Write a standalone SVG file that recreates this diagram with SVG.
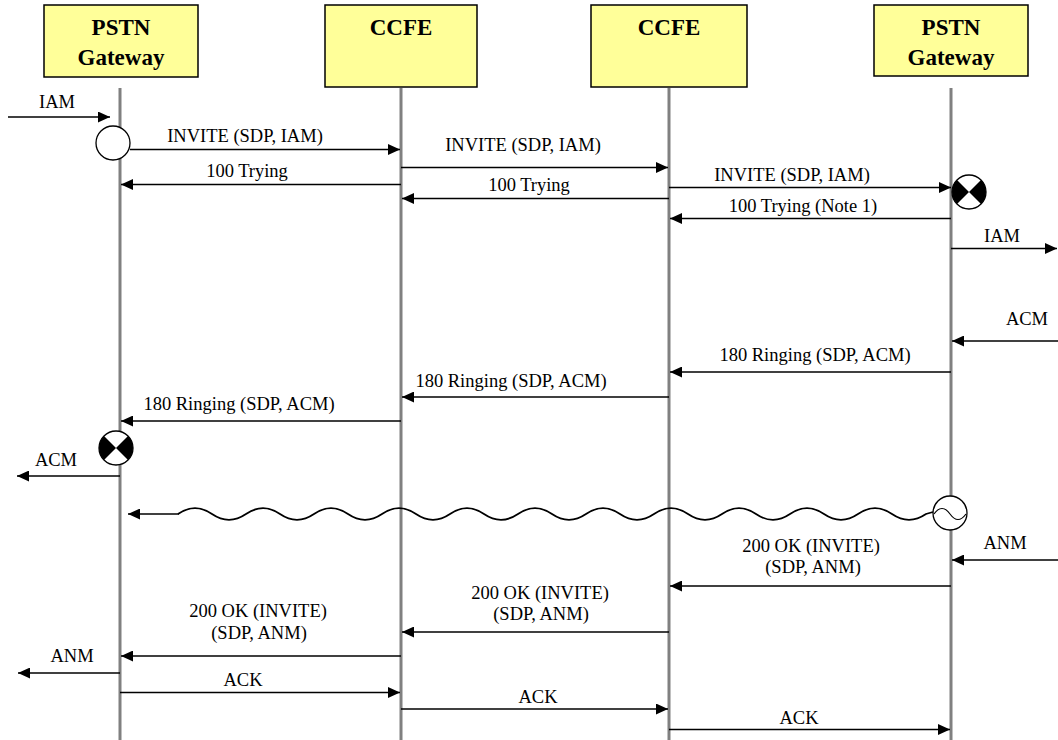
<svg xmlns="http://www.w3.org/2000/svg" width="1058" height="740" viewBox="0 0 1058 740" font-family="Liberation Serif, Times New Roman, serif">
<style>
.box{fill:#FFFF99;stroke:#000;stroke-width:1.5}
.title{font-weight:bold;font-size:23px;text-anchor:middle;fill:#000}
.life{stroke:#808080;stroke-width:3;fill:none}
.msg{stroke:#000;stroke-width:1.4;fill:none;marker-end:url(#ah)}
.lbl{font-size:18.5px;text-anchor:middle;fill:#000}
.circ{fill:#fff;stroke:#000;stroke-width:1.3}
.wedge{fill:#000}
.wave{stroke:#000;stroke-width:1.8;fill:none}
</style>
<defs>
<marker id="ah" viewBox="0 0 12 11" refX="12" refY="5.5" markerWidth="12" markerHeight="11" markerUnits="userSpaceOnUse" orient="auto">
<path d="M0,0 L12,5.5 L0,11 Z" fill="#000"/>
</marker>
</defs>
<rect width="1058" height="740" fill="#fff"/>
<g id="gw1">
<rect class="box" x="44" y="5" width="154" height="72"/>
<text class="title" x="121" y="35">PSTN</text>
<text class="title" x="121" y="65">Gateway</text>
<line class="life" x1="120" y1="88" x2="120" y2="740"/>
</g>
<g id="ccfe1">
<rect class="box" x="325" y="5" width="152" height="82"/>
<text class="title" x="401" y="35">CCFE</text>
<line class="life" x1="401" y1="88" x2="401" y2="740"/>
</g>
<g id="ccfe2">
<rect class="box" x="591" y="5" width="156" height="82"/>
<text class="title" x="669" y="35">CCFE</text>
<line class="life" x1="669" y1="88" x2="669" y2="740"/>
</g>
<g id="gw2">
<rect class="box" x="874" y="5" width="154" height="71"/>
<text class="title" x="951" y="35">PSTN</text>
<text class="title" x="951" y="65">Gateway</text>
<line class="life" x1="951" y1="88" x2="951" y2="740"/>
</g>
<g id="connectors">
<line class="msg" x1="8" y1="117" x2="110" y2="117"/>
<text class="lbl" x="57" y="108">IAM</text>
<line class="msg" x1="130" y1="149.5" x2="400" y2="149.5"/>
<text class="lbl" x="245" y="142">INVITE (SDP, IAM)</text>
<line class="msg" x1="401" y1="184.5" x2="121" y2="184.5"/>
<text class="lbl" x="247" y="177">100 Trying</text>
<line class="msg" x1="401" y1="167.5" x2="668" y2="167.5"/>
<text class="lbl" x="523" y="151">INVITE (SDP, IAM)</text>
<line class="msg" x1="669" y1="198.5" x2="402" y2="198.5"/>
<text class="lbl" x="529" y="191">100 Trying</text>
<line class="msg" x1="669" y1="187.5" x2="951" y2="187.5"/>
<text class="lbl" x="792" y="181">INVITE (SDP, IAM)</text>
<line class="msg" x1="951" y1="218.5" x2="670" y2="218.5"/>
<text class="lbl" x="803" y="212">100 Trying (Note 1)</text>
<line class="msg" x1="951" y1="248.5" x2="1057" y2="248.5"/>
<text class="lbl" x="1002" y="242">IAM</text>
<line class="msg" x1="1058" y1="341" x2="952" y2="341"/>
<text class="lbl" x="1027" y="325">ACM</text>
<line class="msg" x1="951" y1="372" x2="670" y2="372"/>
<text class="lbl" x="815" y="361">180 Ringing (SDP, ACM)</text>
<line class="msg" x1="669" y1="397" x2="402" y2="397"/>
<text class="lbl" x="511" y="387">180 Ringing (SDP, ACM)</text>
<line class="msg" x1="401" y1="421" x2="121" y2="421"/>
<text class="lbl" x="239" y="410">180 Ringing (SDP, ACM)</text>
<line class="msg" x1="120" y1="476" x2="17" y2="476"/>
<text class="lbl" x="56" y="466">ACM</text>
<path class="wave" d="M178,514 q17,-11.6 34,0 t34,0 t34,0 t34,0 t34,0 t34,0 t34,0 t34,0 t34,0 t34,0 t34,0 t34,0 t34,0 t34,0 t34,0 t34,0 t34,0 t34,0 t34,0 t34,0 t34,0 t34,0 l7,-2"/>
<line class="msg" x1="179" y1="514" x2="128" y2="514"/>
<line class="msg" x1="1058" y1="560" x2="952" y2="560"/>
<text class="lbl" x="1005" y="549">ANM</text>
<line class="msg" x1="951" y1="586" x2="670" y2="586"/>
<text class="lbl" x="811" y="552">200 OK (INVITE)</text>
<text class="lbl" x="813" y="573">(SDP, ANM)</text>
<line class="msg" x1="669" y1="632" x2="402" y2="632"/>
<text class="lbl" x="540" y="599">200 OK (INVITE)</text>
<text class="lbl" x="541" y="620">(SDP, ANM)</text>
<line class="msg" x1="401" y1="656" x2="121" y2="656"/>
<text class="lbl" x="258" y="617">200 OK (INVITE)</text>
<text class="lbl" x="259" y="639">(SDP, ANM)</text>
<line class="msg" x1="120" y1="673" x2="18" y2="673"/>
<text class="lbl" x="72" y="662">ANM</text>
<line class="msg" x1="120" y1="692.5" x2="400" y2="692.5"/>
<text class="lbl" x="243" y="686">ACK</text>
<line class="msg" x1="401" y1="709" x2="668" y2="709"/>
<text class="lbl" x="538" y="703">ACK</text>
<line class="msg" x1="669" y1="729.5" x2="950" y2="729.5"/>
<text class="lbl" x="799" y="724">ACK</text>
</g>
<g id="ev-open">
<circle class="circ" cx="113" cy="143" r="17"/>
</g>
<g id="ev-seize-right">
<circle class="circ" cx="969" cy="192" r="17"/>
<path class="wedge" d="M969,192 L956.98,179.98 A17,17 0 0 0 956.98,204.02 Z"/>
<path class="wedge" d="M969,192 L981.02,179.98 A17,17 0 0 1 981.02,204.02 Z"/>
</g>
<g id="ev-seize-left">
<circle class="circ" cx="116" cy="448" r="17"/>
<path class="wedge" d="M116,448 L103.98,435.98 A17,17 0 0 0 103.98,460.02 Z"/>
<path class="wedge" d="M116,448 L128.02,435.98 A17,17 0 0 1 128.02,460.02 Z"/>
</g>
<g id="ev-tone">
<circle class="circ" cx="950" cy="513" r="17"/>
<path d="M934,514 q8,-11 16,0 t16,0" fill="none" stroke="#000" stroke-width="1.2"/>
</g>
</svg>
